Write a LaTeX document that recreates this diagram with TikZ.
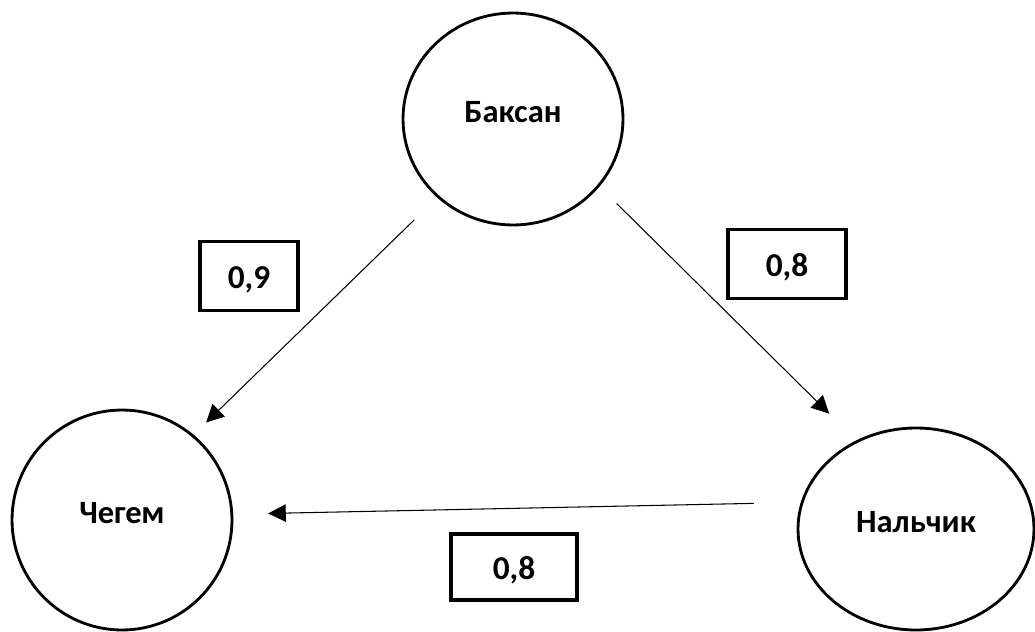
\documentclass[tikz,border=0pt]{standalone}
\usepackage{fontspec}
\setmainfont{Carlito}
\usetikzlibrary{shapes.geometric, arrows.meta}

\begin{document}
\begin{tikzpicture}[x=0.02cm, y=-0.02cm,
  town/.style={ellipse, draw, line width=1.6pt, inner sep=0pt, text depth=0.28cm,
    font=\fontsize{18.5}{22}\selectfont\bfseries},
  weight/.style={draw, line width=1.8pt, inner sep=0pt, text height=0.5cm, text depth=0cm,
    font=\fontsize{19}{22}\selectfont\bfseries},
  link/.style={line width=0.6pt, -{Triangle[length=10pt, width=10pt]}}]
  \useasboundingbox (0,0) rectangle (1035,632);
  % towns
  \node[town, minimum width=4.4cm, minimum height=4.24cm] (baksan) at (513,119) {Баксан};
  \node[town, minimum width=4.4cm, minimum height=4.4cm] (chegem) at (122,520) {Чегем};
  \node[town, minimum width=4.72cm, minimum height=4.04cm] (nalchik) at (916,529) {Нальчик};
  % weights of the links
  \node[weight, minimum width=1.96cm, minimum height=1.38cm] (wbc) at (249,276) {0,9};
  \node[weight, minimum width=2.36cm, minimum height=1.38cm] (wbn) at (787,264) {0,8};
  \node[weight, minimum width=2.52cm, minimum height=1.32cm] (wnc) at (514,567) {0,8};
  % links
  \draw[link, shorten <=0.64cm, shorten >=0.35cm] (baksan.226) -- (chegem.50);
  \draw[link, shorten <=0.48cm, shorten >=0.76cm] (baksan.-38) -- (nalchik.124);
  \draw[link, shorten <=0.94cm, shorten >=0.7cm] (nalchik.167) -- (chegem.3);
\end{tikzpicture}
\end{document}
